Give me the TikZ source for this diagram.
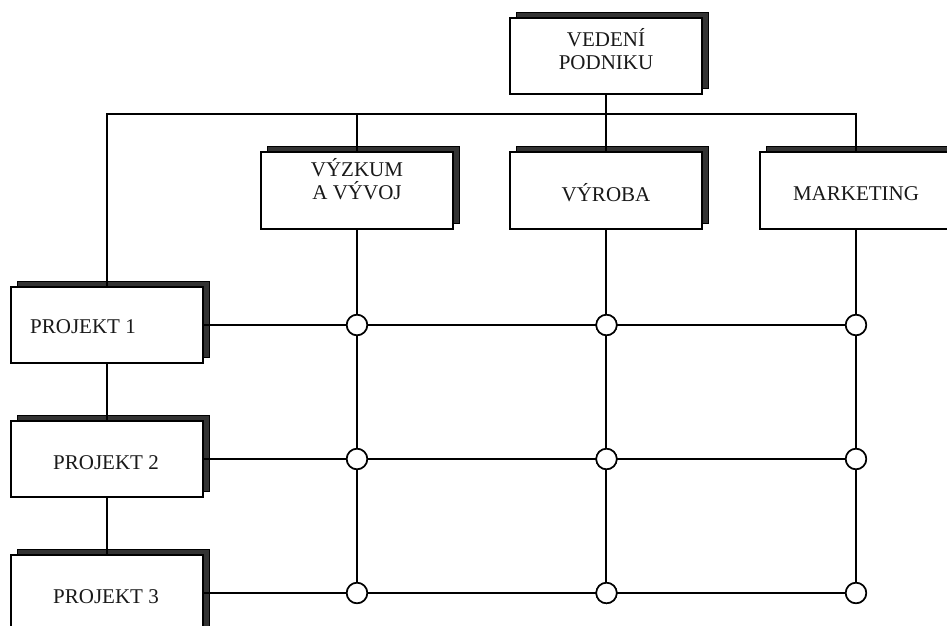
\documentclass[tikz,border=0pt]{standalone}
\usepackage{fontspec}
\setmainfont{Liberation Serif}
\definecolor{shadowgrey}{HTML}{333333}
\tikzset{
  orgbox/.style={draw=black,line width=1.6pt,fill=white,minimum width=191.5pt,minimum height=76.5pt,inner sep=0pt},
  backbox/.style={draw=black,line width=1.2pt,fill=shadowgrey,minimum width=191.5pt,minimum height=76.5pt,inner sep=0pt},
  lbl/.style={font=\fontsize{21}{22.5}\selectfont,align=center,inner sep=0pt,text=black!90},
  conn/.style={draw=black,line width=1.6pt},
  joint/.style={circle,draw=black,line width=1.6pt,fill=white,minimum size=20.5pt,inner sep=0pt}
}
\newcommand{\orgnode}[3]{%
  \node[backbox] (#1s) at (#2+6.5,#3-5.5) {};
  \node[orgbox] (#1) at (#2,#3) {};
}
\begin{document}
\begin{tikzpicture}[x=1pt,y=-1pt]
\useasboundingbox (0,0) rectangle (947,625);
\clip (0,0) rectangle (947,625);
\orgnode{vp}{606}{56}
\orgnode{vv}{357}{190.5}
\orgnode{vy}{606}{190.5}
\orgnode{mk}{856}{190.5}
\orgnode{p1}{107}{325}
\orgnode{p2}{107}{459}
\orgnode{p3}{107}{593.5}
\node[lbl,yshift=7pt] (tvp) at (vp) {VEDENÍ\\PODNIKU};
\node[lbl,yshift=11.5pt] (tvv) at (vv) {VÝZKUM\\A VÝVOJ};
\node[lbl,yshift=-2.5pt] (tvy) at (vy) {VÝROBA};
\node[lbl,yshift=-3pt] (tmk) at (mk) {MARKETING};
\node[lbl,xshift=-24pt,yshift=-2pt] (tp1) at (p1) {PROJEKT 1};
\node[lbl,xshift=-1pt,yshift=-4pt] (tp2) at (p2) {PROJEKT 2};
\node[lbl,xshift=-1pt,yshift=-3pt] (tp3) at (p3) {PROJEKT 3};
\coordinate (bus) at (606,114);
\node[joint] (a1) at (357,325) {};
\node[joint] (b1) at (606.5,325) {};
\node[joint] (c1) at (856,325) {};
\node[joint] (a2) at (357,459) {};
\node[joint] (b2) at (606.5,459) {};
\node[joint] (c2) at (856,459) {};
\node[joint] (a3) at (357,593) {};
\node[joint] (b3) at (606.5,593) {};
\node[joint] (c3) at (856,593) {};
\draw[conn] (vp.south) -- (vy.north);
\draw[conn] (p1.north) |- (bus) -| (mk.north);
\draw[conn] (vv.north) -- (vv.north |- bus);
\draw[conn] (p1.south) -- (p2.north);
\draw[conn] (p2.south) -- (p3.north);
\draw[conn] (p1.east) -- (c1);
\draw[conn] (p2.east) -- (c2);
\draw[conn] (p3.east |- c3) -- (c3);
\draw[conn] (vv.south) -- (a3);
\draw[conn] (vy.south) -- (vy.south |- b3);
\draw[conn] (mk.south) -- (c3);
\foreach \n in {a1,b1,c1,a2,b2,c2,a3,b3,c3}{\node[joint] at (\n) {};}
\end{tikzpicture}
\end{document}
